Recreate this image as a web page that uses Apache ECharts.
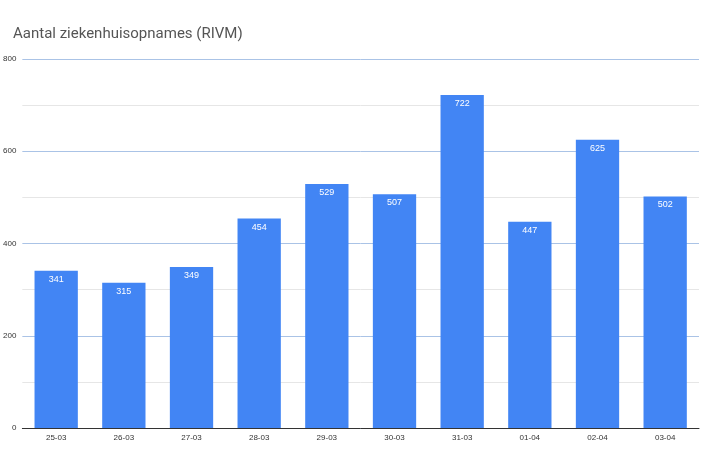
<!DOCTYPE html>
<html><head><meta charset="utf-8">
<script src="https://cdn.jsdelivr.net/npm/echarts@6/dist/echarts.min.js"></script>
<style>html,body{margin:0;padding:0;background:#fff}#c{width:701px;height:467px}</style>
</head><body><div id="c"></div>
<script>
const dates = ['25-03','26-03','27-03','28-03','29-03','30-03','31-03','01-04','02-04','03-04'];
const opnames = [341,315,349,454,529,507,722,447,625,502];

const chart = echarts.init(document.getElementById('c'));
chart.setOption({
  animation: false,
  title: {
    text: 'Aantal ziekenhuisopnames (RIVM)',
    left: 8, top: 22,
    textStyle: { color: '#555', fontSize: 15, fontWeight: 'normal', fontFamily: 'Roboto, sans-serif' }
  },
  grid: { left: 22, right: 2, top: 59, bottom: 39, containLabel: false },
  xAxis: {
    type: 'category',
    data: dates,
    axisTick: { show: false },
    axisLine: { lineStyle: { color: '#333' } },
    axisLabel: { fontSize: 8, color: '#333', margin: 6 }
  },
  yAxis: {
    type: 'value',
    min: 0, max: 800, interval: 200,
    axisLabel: { fontSize: 8, color: '#333', margin: 6 },
    splitLine: { lineStyle: { color: '#aac3e6' } },
    minorTick: { show: false, splitNumber: 2 },
    minorSplitLine: { show: true, lineStyle: { color: '#e6e6e6' } }
  },
  series: [{
    type: 'bar',
    data: opnames,
    barCategoryGap: '36%',
    itemStyle: { color: '#4285f4' },
    label: { show: true, position: 'insideTop', color: '#fff', fontSize: 9, distance: 4 }
  }]
});
</script></body></html>
